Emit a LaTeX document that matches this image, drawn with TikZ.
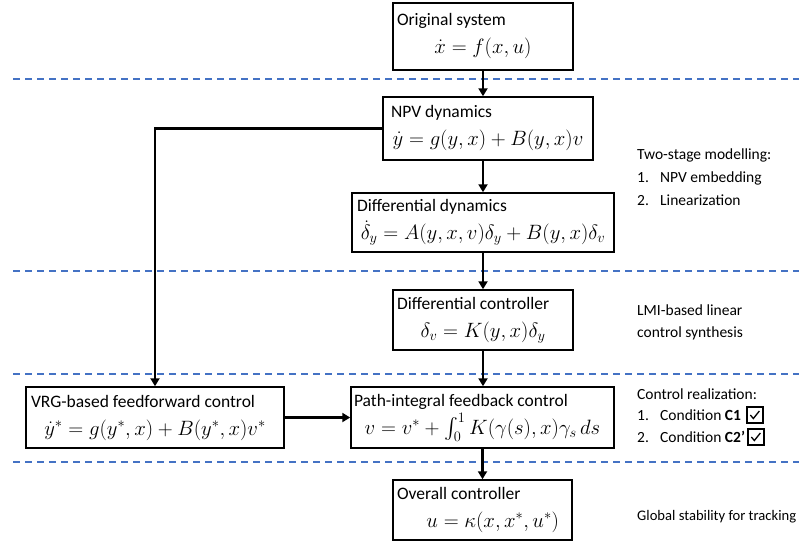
\documentclass[tikz,border=0pt]{standalone}
\usepackage[no-math]{fontspec}
\setmainfont{Carlito}
\usepackage{amsmath}
\usetikzlibrary{arrows.meta}
\definecolor{sepblue}{RGB}{68,114,196}
\newcommand{\fm}[1]{{\fontsize{20.5}{24}\selectfont$#1$}}
\begin{document}
\begin{tikzpicture}[x=1pt,y=-1pt,
  every node/.style={font=\fontsize{15.5}{19}\selectfont},
  blk/.style={draw, line width=1.5pt, align=center, inner sep=1pt, font=\fontsize{17.5}{28}\selectfont},
  conn/.style={line width=2.5pt, -{Triangle[length=8pt,width=9pt]}},
  lab/.style={anchor=west, inner sep=0pt},
  sep/.style={dash pattern=on 7pt off 5pt, line width=1.5pt, draw=sepblue},
  chk/.style={draw, line width=1.3pt, minimum size=16pt, inner sep=0pt, anchor=west}]
\useasboundingbox (0,0) rectangle (799,550);

% separators
\draw[sep] (13,79) -- (799,79);
\draw[sep] (13,271) -- (799,271);
\draw[sep] (13,374) -- (799,374);
\draw[sep] (13,462) -- (799,462);

% boxes
\node[blk, minimum width=180pt, minimum height=67pt] (orig) at (483,36.5)
  {\makebox[172pt][l]{Original system}\\\fm{\dot x = f(x,u)}};
\node[blk, minimum width=210pt, minimum height=63pt] (npv) at (488,128.5)
  {\makebox[200pt][l]{\hspace{3pt}NPV dynamics}\\\fm{\dot y = g(y,x) + B(y,x)v}};
\node[blk, minimum width=262pt, minimum height=59pt] (diffdyn) at (483,222.5)
  {\makebox[256pt][l]{\hspace{2pt}Differential dynamics}\\\fm{\dot\delta_y = A(y,x,v)\delta_y + B(y,x)\delta_v}};
\node[blk, minimum width=180pt, minimum height=60pt] (diffctrl) at (483,320)
  {\makebox[172pt][l]{Differential controller}\\\fm{\delta_v = K(y,x)\delta_y}};
\node[blk, minimum width=258pt, minimum height=61pt] (vrg) at (155,417.5)
  {\makebox[248pt][l]{VRG-based feedforward control}\\\fm{\dot y^* = g(y^*,x) + B(y^*,x)v^*}};
\node[blk, minimum width=263pt, minimum height=61pt] (path) at (482.5,417.5)
  {\makebox[257pt][l]{Path-integral feedback control}\\\fm{v = v^* + \int_0^1 K(\gamma(s),x)\gamma_s\,ds}};
\node[blk, minimum width=179pt, minimum height=60pt] (overall) at (482.5,510)
  {\makebox[171pt][l]{Overall controller}\\\fm{\quad u = \kappa(x,x^*,u^*)}};

% connectors
\draw[conn] (orig.south) -- (orig.south |- npv.north);
\draw[conn] (diffdyn.north |- npv.south) -- (diffdyn.north);
\draw[conn] (diffctrl.north |- diffdyn.south) -- (diffctrl.north);
\draw[conn] (diffctrl.south) -- (diffctrl.south |- path.north);
\draw[conn] (overall.north |- path.south) -- (overall.north);
\draw[conn] (npv.west) -| (vrg.north);
\draw[conn] (vrg.east) -- (path.west);

% right labels
\node[lab] (ts) at (637,155) {Two-stage modelling:};
\node[lab] (ts1) at (637,178) {\makebox[23pt][l]{1.}NPV embedding};
\node[lab] (ts2) at (637,200) {\makebox[23pt][l]{2.}Linearization};
\node[lab] (lmi1) at (637,310) {LMI-based linear};
\node[lab] (lmi2) at (637,333) {control synthesis};
\node[lab] (cr) at (637,394) {Control realization:};
\node[lab] (cr1) at (637,415) {\makebox[23pt][l]{1.}Condition \textbf{C1}};
\node[lab] (cr2) at (637,437) {\makebox[23pt][l]{2.}Condition \textbf{C2’}};
\node[lab, font=\fontsize{14.6}{18}\selectfont] (gs) at (637,517) {Global stability for tracking};

% checkboxes
\node[chk] (k1) at ([xshift=5pt]cr1.east) {};
\node[chk] (k2) at ([xshift=2pt]cr2.east) {};
\draw[line width=1.3pt] ([shift={(-4.5,0)}]k1.center) -- ([shift={(-1.5,3.5)}]k1.center) -- ([shift={(4.5,-4)}]k1.center);
\draw[line width=1.3pt] ([shift={(-4.5,0)}]k2.center) -- ([shift={(-1.5,3.5)}]k2.center) -- ([shift={(4.5,-4)}]k2.center);
\end{tikzpicture}
\end{document}
